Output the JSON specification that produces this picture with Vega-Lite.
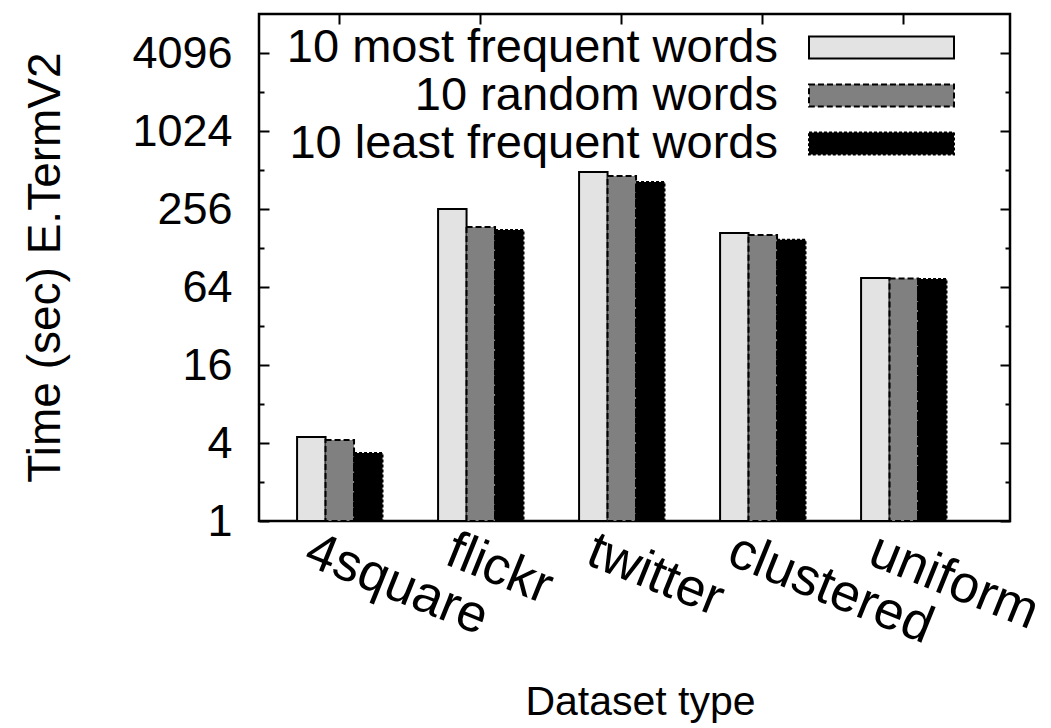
{
  "$schema": "https://vega.github.io/schema/vega-lite/v6.json",
  "width": 751,
  "height": 507,
  "autosize": "none",
  "padding": {"left": 259, "top": 14, "right": 41, "bottom": 207},
  "background": "white",
  "config": {
    "view": {"stroke": "black", "strokeWidth": 2.5},
    "font": "Liberation Sans",
    "axis": {
      "domain": false,
      "grid": false,
      "tickColor": "black",
      "tickWidth": 2,
      "labelColor": "black",
      "titleColor": "black",
      "labelFont": "Liberation Sans",
      "titleFont": "Liberation Sans",
      "titleFontWeight": "normal"
    }
  },
  "data": {
    "values": [
      {"dataset": "4square", "series": "10 most frequent words", "time": 4.45},
      {"dataset": "4square", "series": "10 random words", "time": 4.22},
      {"dataset": "4square", "series": "10 least frequent words", "time": 3.35},
      {"dataset": "flickr", "series": "10 most frequent words", "time": 256},
      {"dataset": "flickr", "series": "10 random words", "time": 186},
      {"dataset": "flickr", "series": "10 least frequent words", "time": 176},
      {"dataset": "twitter", "series": "10 most frequent words", "time": 494},
      {"dataset": "twitter", "series": "10 random words", "time": 460},
      {"dataset": "twitter", "series": "10 least frequent words", "time": 413},
      {"dataset": "clustered", "series": "10 most frequent words", "time": 167},
      {"dataset": "clustered", "series": "10 random words", "time": 161},
      {"dataset": "clustered", "series": "10 least frequent words", "time": 148},
      {"dataset": "uniform", "series": "10 most frequent words", "time": 75},
      {"dataset": "uniform", "series": "10 random words", "time": 74.5},
      {"dataset": "uniform", "series": "10 least frequent words", "time": 73.8}
    ]
  },
  "layer": [
    {
      "mark": {"type": "bar", "stroke": "black", "strokeWidth": 2},
      "encoding": {
        "x": {
          "field": "dataset",
          "type": "nominal",
          "sort": ["4square", "flickr", "twitter", "clustered", "uniform"],
          "scale": {"range": [0, 725.6], "paddingInner": 0.394, "paddingOuter": 0.27},
          "axis": {
            "orient": "bottom",
            "title": "Dataset type",
            "titleFontSize": 41,
            "titleX": 381,
            "titleY": 181,
            "titleBaseline": "middle",
            "titleAlign": "center",
            "labelFontSize": 53,
            "labelAngle": 22,
            "labelAlign": "left",
            "labelBaseline": "top",
            "labelPadding": 13,
            "labelOffset": -22,
            "labelLimit": 1000,
            "tickSize": -10
          }
        },
        "xOffset": {
          "field": "series",
          "type": "nominal",
          "sort": ["10 most frequent words", "10 random words", "10 least frequent words"],
          "scale": {"paddingInner": 0, "paddingOuter": 0}
        },
        "y": {
          "field": "time",
          "type": "quantitative",
          "scale": {"type": "log", "base": 2, "domain": [1, 8192], "nice": false},
          "axis": {
            "orient": "left",
            "title": "Time (sec) E.TermV2",
            "titleFontSize": 46,
            "titleAngle": -90,
            "titleX": -214,
            "titleY": 253,
            "titleAlign": "center",
            "titleBaseline": "middle",
            "values": [1, 2, 4, 8, 16, 32, 64, 128, 256, 512, 1024, 2048, 4096],
            "labelExpr": "indexof([1,4,16,64,256,1024,4096], datum.value) >= 0 ? datum.value : ''",
            "labelFontSize": 45,
            "labelPadding": 37,
            "tickSize": {"condition": {"test": "indexof([1,4,16,64,256,1024,4096], datum.value) >= 0", "value": -10}, "value": -5}
          }
        },
        "y2": {"datum": 1},
        "fill": {
          "field": "series",
          "type": "nominal",
          "scale": {
            "domain": ["10 most frequent words", "10 random words", "10 least frequent words"],
            "range": ["#e3e3e3", "#808080", "#000000"]
          },
          "legend": {
            "title": null,
            "orient": "none",
            "legendX": 599,
            "legendY": 10,
            "labelFontSize": 47,
            "labelFont": "Liberation Sans",
            "labelColor": "black",
            "labelAlign": "right",
            "labelOffset": -127,
            "labelLimit": 1000,
            "symbolType": "M-4.833,-0.727H4.833V0.727H-4.833Z",
            "symbolSize": 900,
            "symbolStrokeColor": "black",
            "symbolStrokeWidth": 2,
            "symbolOpacity": 1,
            "rowPadding": 0,
            "encode": {"symbols": {"update": {"stroke": {"value": "black"}, "strokeWidth": {"value": 2}}}}
          }
        },
        "strokeDash": {
          "field": "series",
          "type": "nominal",
          "scale": {
            "domain": ["10 most frequent words", "10 random words", "10 least frequent words"],
            "range": [[1, 0], [6, 3], [3, 2]]
          },
          "legend": {
            "title": null,
            "orient": "none",
            "legendX": 599,
            "legendY": 10,
            "labelFontSize": 47,
            "labelFont": "Liberation Sans",
            "labelColor": "black",
            "labelAlign": "right",
            "labelOffset": -127,
            "labelLimit": 1000,
            "symbolType": "M-4.833,-0.727H4.833V0.727H-4.833Z",
            "symbolSize": 900,
            "symbolStrokeColor": "black",
            "symbolStrokeWidth": 2,
            "symbolOpacity": 1,
            "rowPadding": 0,
            "encode": {"symbols": {"update": {"stroke": {"value": "black"}, "strokeWidth": {"value": 2}}}}
          }
        }
      }
    },
    {
      "mark": {"type": "bar", "opacity": 0},
      "encoding": {
        "x": {
          "field": "dataset",
          "type": "nominal",
          "sort": ["4square", "flickr", "twitter", "clustered", "uniform"],
          "axis": {"orient": "top", "labels": false, "title": null, "tickSize": -10}
        },
        "y": {
          "field": "time",
          "type": "quantitative",
          "axis": {
            "orient": "right",
            "labels": false,
            "title": null,
            "values": [1, 2, 4, 8, 16, 32, 64, 128, 256, 512, 1024, 2048, 4096],
            "tickSize": {"condition": {"test": "indexof([1,4,16,64,256,1024,4096], datum.value) >= 0", "value": -10}, "value": -5}
          }
        }
      }
    }
  ],
  "resolve": {"axis": {"x": "independent", "y": "independent"}}
}
